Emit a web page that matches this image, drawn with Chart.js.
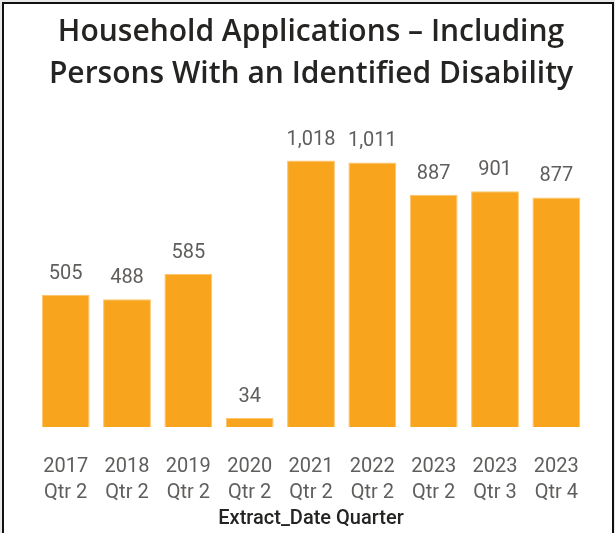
<!DOCTYPE html>
<html>
<head>
<meta charset="utf-8">
<script src="https://cdn.jsdelivr.net/npm/chart.js@4/dist/chart.umd.min.js"></script>
<style>
  html, body { margin: 0; padding: 0; width: 615px; height: 533px; overflow: hidden; background: #e9e9e9; }
  #frame { position: absolute; left: 2px; top: 2px; width: 608px; height: 531px; border: 2px solid #111; border-bottom: none; background: #fff; }
  canvas { display: block; }
</style>
</head>
<body>
<div id="frame"><canvas id="chart" width="608" height="529"></canvas></div>
<script>
var years = ['2017', '2018', '2019', '2020', '2021', '2022', '2023', '2023', '2023'];
var quarters = ['Qtr 2', 'Qtr 2', 'Qtr 2', 'Qtr 2', 'Qtr 2', 'Qtr 2', 'Qtr 2', 'Qtr 3', 'Qtr 4'];
var applications = [505, 488, 585, 34, 1018, 1011, 887, 901, 877];

var labels = years.map(function(y, i) { return [y, quarters[i]]; });

// values printed above each bar
var barValueLabels = {
  id: 'barValueLabels',
  afterDatasetsDraw: function(chart) {
    var ctx = chart.ctx;
    var meta = chart.getDatasetMeta(0);
    ctx.save();
    ctx.font = '20px Roboto';
    ctx.fillStyle = '#605E5C';
    ctx.textAlign = 'center';
    ctx.textBaseline = 'alphabetic';
    meta.data.forEach(function(bar, i) {
      ctx.fillText(applications[i].toLocaleString('en-US'), bar.x, bar.y - 16);
    });
    ctx.restore();
  }
};

var myChart = new Chart(document.getElementById('chart'), {
  type: 'bar',
  data: {
    labels: labels,
    datasets: [{
      label: 'Household Applications',
      data: applications,
      backgroundColor: '#F8A51D',
      borderColor: '#FBC46E',
      borderWidth: 1,
      barPercentage: 0.78,
      categoryPercentage: 1
    }]
  },
  options: {
    responsive: false,
    animation: false,
    devicePixelRatio: 1,
    layout: { padding: { left: 31, right: 25, top: 0, bottom: 0 } },
    plugins: {
      legend: { display: false },
      tooltip: { enabled: false },
      title: {
        display: true,
        text: ['Household Applications \u2013 Including', 'Persons With an Identified Disability'],
        color: '#252423',
        font: { family: 'Open Sans', size: 30, weight: '600', lineHeight: 1.4 },
        padding: { top: 7, bottom: 31 }
      }
    },
    scales: {
      x: {
        grid: { display: false, drawTicks: false },
        border: { display: false },
        ticks: {
          color: '#605E5C',
          font: { family: 'Roboto', size: 20, lineHeight: 1.3 },
          padding: 27,
          maxRotation: 0,
          autoSkip: false
        },
        title: {
          display: true,
          text: 'Extract_Date Quarter',
          color: '#252423',
          font: { family: 'Roboto', size: 20, weight: '500', lineHeight: 1.2 },
          padding: { top: 0, bottom: 2 }
        },
        afterFit: function(scale) { scale.height = 106; }
      },
      y: {
        display: false,
        min: 0,
        max: 1150
      }
    }
  },
  plugins: [barValueLabels]
});
</script>
</body>
</html>
